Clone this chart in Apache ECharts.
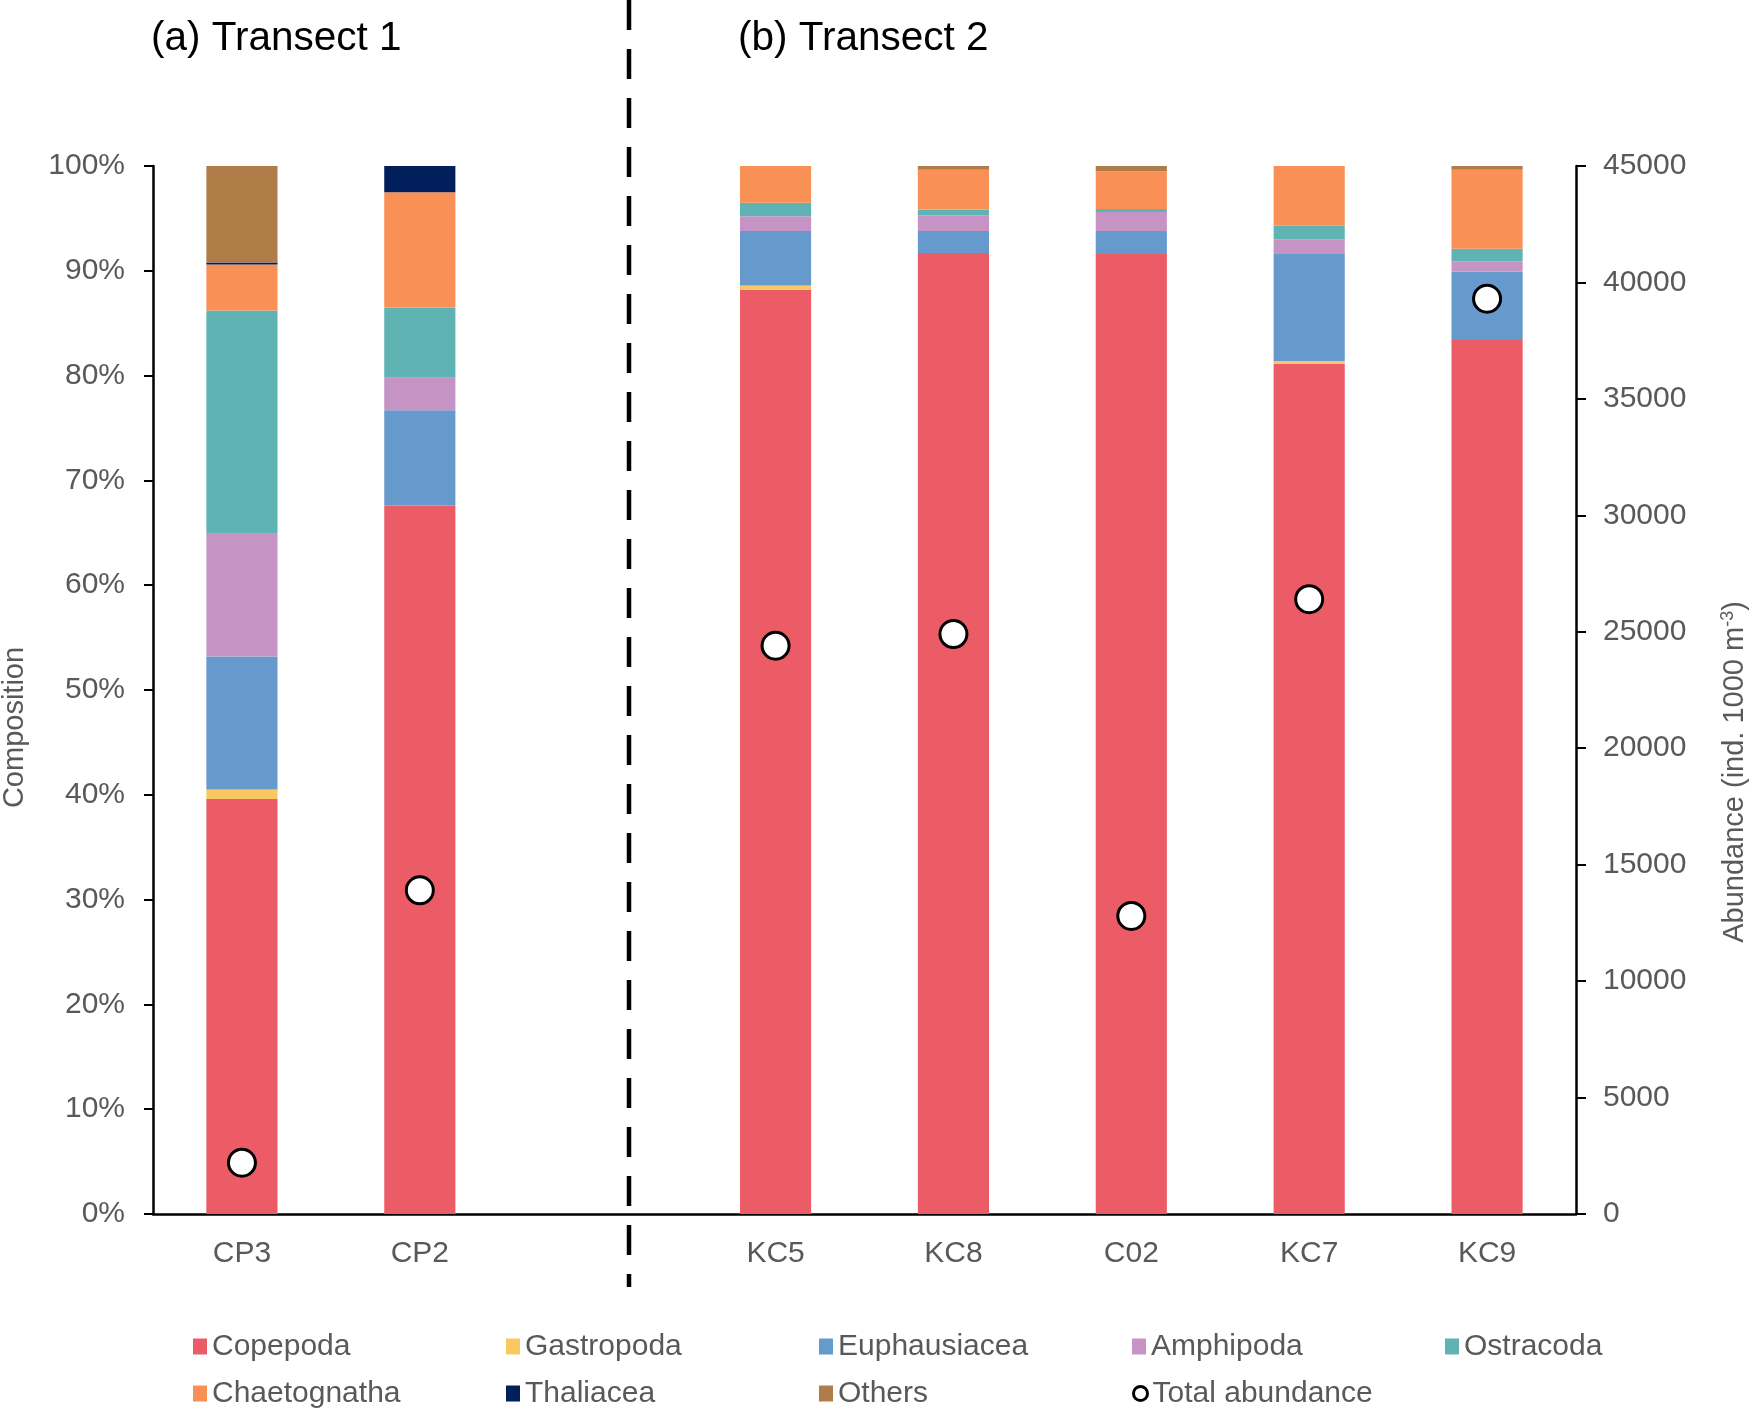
<!DOCTYPE html>
<html>
<head>
<meta charset="utf-8">
<script src="https://cdn.jsdelivr.net/npm/echarts@6/dist/echarts.min.js"></script>
<style>
html,body{margin:0;padding:0;background:#fff;}
#chart{width:1759px;height:1413px;}
</style>
</head>
<body>
<div id="chart"></div>
<script>
// ---- Data ----
const categories = ['CP3', 'CP2', '', 'KC5', 'KC8', 'C02', 'KC7', 'KC9'];
const copepoda     = [39.6, 67.6, null, 88.2, 91.7, 91.6, 81.1, 83.4];
const gastropoda   = [0.9,  0.0,  null, 0.4,  0.0,  0.0,  0.3,  0.0];
const euphausiacea = [12.7, 9.1,  null, 5.2,  2.1,  2.2,  10.2, 6.5];
const amphipoda    = [11.7, 3.1,  null, 1.4,  1.5,  1.8,  1.4,  1.0];
const ostracoda    = [21.3, 6.7,  null, 1.3,  0.55, 0.3,  1.3,  1.2];
const chaetognatha = [4.4,  11.0, null, 3.5,  3.8,  3.6,  5.7,  7.55];
const thaliacea    = [0.2,  2.5,  null, 0.0,  0.0,  0.0,  0.0,  0.0];
const others       = [9.2,  0.0,  null, 0.0,  0.35, 0.5,  0.0,  0.35];
const totalAbundance = [2200, 13900, null, 24400, 24900, 12800, 26400, 39300];
const pctTicks = [0, 10, 20, 30, 40, 50, 60, 70, 80, 90, 100];
const abundanceTicks = [0, 5000, 10000, 15000, 20000, 25000, 30000, 35000, 40000, 45000];

const seriesDefs = [
  ['Copepoda', copepoda, '#EB5C67'],
  ['Gastropoda', gastropoda, '#FAC863'],
  ['Euphausiacea', euphausiacea, '#6699CC'],
  ['Amphipoda', amphipoda, '#C594C5'],
  ['Ostracoda', ostracoda, '#5FB3B3'],
  ['Chaetognatha', chaetognatha, '#F99157'],
  ['Thaliacea', thaliacea, '#001F5B'],
  ['Others', others, '#B07D48']
];

const chart = echarts.init(document.getElementById('chart'), null, {renderer: 'canvas'});
const FONT = '"Liberation Sans", Arial, Helvetica, sans-serif';
const GREY = '#595959';

const series = seriesDefs.map(([name, data, color]) => ({
  name, type: 'bar', stack: 'comp', data, barWidth: '40%',
  itemStyle: {color},
  emphasis: {disabled: true}
}));
series.push({
  name: 'Total abundance', type: 'scatter', yAxisIndex: 1,
  data: totalAbundance, symbol: 'circle', symbolSize: 27,
  itemStyle: {color: '#ffffff', borderColor: '#000000', borderWidth: 3, opacity: 1},
  z: 5
});

const legendData = seriesDefs.map(d => ({name: d[0], icon: 'rect'}));
legendData.push({name: 'Total abundance', icon: 'circle', itemStyle: {color: '#fff', borderColor: '#000', borderWidth: 3}});

chart.setOption({
  animation: false,
  backgroundColor: '#ffffff',
  textStyle: {fontFamily: FONT},
  title: [
    {text: '(a) Transect 1', left: 146, top: 13, textStyle: {fontFamily: FONT, fontSize: 40.5, fontWeight: 'normal', color: '#000'}},
    {text: '(b) Transect 2', left: 733, top: 13, textStyle: {fontFamily: FONT, fontSize: 40.5, fontWeight: 'normal', color: '#000'}}
  ],
  grid: {left: 153, right: 183, top: 166, bottom: 199, containLabel: false, outerBoundsMode: 'none'},
  legend: {
    data: legendData,
    left: 188, top: 1318, width: 1570,
    itemWidth: 14, itemHeight: 16, itemGap: 0,
    selectedMode: false,
    textStyle: {fontFamily: FONT, fontSize: 30, color: GREY, width: 294, lineHeight: 47, padding: [0, 0, 0, 0], overflow: 'none'}
  },
  xAxis: {
    type: 'category', data: categories,
    axisLine: {lineStyle: {color: '#000', width: 2.5}},
    axisTick: {show: false},
    axisLabel: {fontFamily: FONT, fontSize: 30, color: GREY, margin: 25, interval: 0},
    splitLine: {show: false}
  },
  yAxis: [
    {
      type: 'value', min: 0, max: 100, interval: 10, position: 'left',
      name: 'Composition', nameLocation: 'middle', nameRotate: 90, nameGap: 124,
      nameTextStyle: {fontFamily: FONT, fontSize: 29, color: GREY, padding: [0, 75, 0, 0]},
      axisLine: {show: true, lineStyle: {color: '#000', width: 2.5}},
      axisTick: {show: true, length: 9, lineStyle: {color: '#000', width: 2}},
      axisLabel: {fontFamily: FONT, fontSize: 30, color: GREY, margin: 28, formatter: '{value}%'},
      splitLine: {show: false}
    },
    {
      type: 'value', min: 0, max: 45000, interval: 5000, position: 'right',
      name: '{a|Abundance (ind. 1000 m}{s|-3}{a|)}', nameLocation: 'middle', nameRotate: 90, nameGap: 143,
      nameTextStyle: {fontFamily: FONT, fontSize: 29, color: GREY, padding: [0, 164, 0, 0],
        rich: {a: {fontFamily: FONT, fontSize: 29, color: GREY}, s: {fontFamily: FONT, fontSize: 18, color: GREY, padding: [0, 0, 14, 0]}}},
      axisLine: {show: true, lineStyle: {color: '#000', width: 2.5}},
      axisTick: {show: true, length: 10, lineStyle: {color: '#000', width: 2}},
      axisLabel: {fontFamily: FONT, fontSize: 30, color: GREY, margin: 27, formatter: v => String(v)},
      splitLine: {show: false}
    }
  ],
  graphic: [{
    type: 'line', z: 100,
    shape: {x1: 629, y1: 0, x2: 629, y2: 1287},
    style: {stroke: '#000', lineWidth: 4.5, lineDash: [30, 19]}
  }],
  series
});
</script>
</body>
</html>
